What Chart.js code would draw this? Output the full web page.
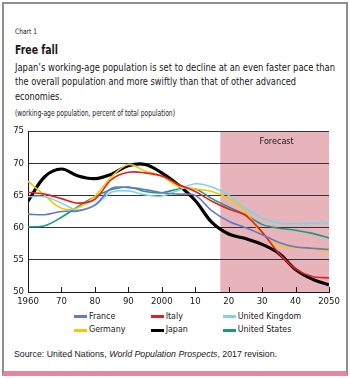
<!DOCTYPE html>
<html><head><meta charset="utf-8">
<script src="https://cdn.jsdelivr.net/npm/chart.js@4.4.1/dist/chart.umd.min.js"></script>
<style>
html,body{margin:0;padding:0;background:#fff;width:350px;height:378px;overflow:hidden;position:relative;}
#frame{position:absolute;left:2px;top:2px;width:342px;height:367px;border:2px solid #8e8e8e;border-bottom:5px solid #e4869f;}
.t{position:absolute;white-space:nowrap;color:#1a1718;font-family:'Liberation Sans Narrow','DejaVu Sans Condensed',sans-serif;line-height:1;transform-origin:0 0;}
#c{position:absolute;left:0;top:120px;}
.sw{position:absolute;height:3px;width:13px;}
</style></head>
<body>
<div id="frame"></div>
<div class="t" style="left:15px;top:28px;font-size:7.5px;" data-w="22">Chart 1</div>
<div class="t" style="left:15px;top:44.4px;font-size:12.5px;font-weight:bold;" data-w="43">Free fall</div>
<div class="t" style="left:15px;top:61.7px;font-size:11px;" data-w="320">Japan’s working-age population is set to decline at an even faster pace than</div>
<div class="t" style="left:15px;top:76.2px;font-size:11px;" data-w="281">the overall population and more swiftly than that of other advanced</div>
<div class="t" style="left:15px;top:90.8px;font-size:11px;" data-w="47">economies.</div>
<div class="t" style="left:15px;top:110px;font-size:8px;" data-w="160">(working-age population, percent of total population)</div>
<canvas id="c" width="350" height="190"></canvas>
<div id="legend"></div>
<div class="t" style="left:14px;top:349.6px;font-size:8.4px;font-family:'Liberation Sans','DejaVu Sans',sans-serif;" data-w="263">Source: United Nations, <i>World Population Prospects</i>, 2017 revision.</div>
<script>
// ---- data ----
const years = [1960,1965,1970,1975,1980,1985,1990,1995,2000,2005,2010,2015,2020,2025,2030,2035,2040,2045,2050];
const france  = [62.1,62.0,62.5,62.6,63.5,66.1,66.2,65.9,65.4,65.2,65.0,62.6,61.0,60.0,58.9,57.7,57.0,56.8,56.6];
const italy   = [65.5,65.2,64.5,63.8,64.4,67.5,68.6,68.5,68.0,66.7,65.6,64.1,62.9,61.9,59.3,56.0,53.6,52.4,52.2];
const uk      = [64.8,64.8,63.8,62.7,63.5,65.5,65.7,65.1,64.9,65.8,66.8,66.3,65.0,63.0,61.5,60.7,60.6,60.7,60.7];
const germany = [67.2,65.0,63.0,63.1,64.9,67.9,69.8,68.8,68.0,66.4,66.0,65.6,64.5,62.5,59.0,57.2,56.9,56.7,56.4];
const japan   = [64.1,67.9,69.1,68.0,67.6,68.3,69.6,69.8,68.5,66.6,64.2,60.8,59.0,58.3,57.4,56.0,53.5,52.0,51.1];
const us      = [60.1,60.3,61.6,63.3,64.8,65.9,66.3,65.6,65.4,66.0,66.0,64.5,63.2,62.0,60.5,59.9,59.6,59.1,58.4];
const seriesNames = ['France','Italy','United Kingdom','Germany','Japan','United States'];
const seriesValues = [france, italy, uk, germany, japan, us];
const seriesColors = ['#6677c6','#ed1c24','#7dd4e2','#f6c700','#000000','#1a9a7f'];
const xTickValues = [1960,1970,1980,1990,2000,2010,2020,2030,2040,2050];
const xTickLabels = ['1960','70','80','90','2000','10','20','30','40','2050'];
const yMin = 50, yMax = 75, yStep = 5;
const forecastStart = 2017.5;
const forecastLabel = 'Forecast';

// ---- fit text ----
document.querySelectorAll('[data-w]').forEach(el=>{
  const w = el.getBoundingClientRect().width;
  el.style.transform = 'scaleX(' + (+el.dataset.w / w) + ')';
});

// ---- legend ----
const legend = document.getElementById('legend');
const colX = [74, 150.7, 222.7];
const rowY = [316.5, 330];
seriesNames.forEach((n,i)=>{
  const c = i % 3, r = Math.floor(i / 3);
  const sw = document.createElement('div');
  sw.className = 'sw';
  sw.style.left = colX[c] + 'px';
  sw.style.top = (rowY[r] - 1.5) + 'px';
  sw.style.background = seriesColors[i];
  legend.appendChild(sw);
  const t = document.createElement('div');
  t.className = 't';
  t.style.left = (colX[c] + 15) + 'px';
  t.style.top = (rowY[r] - 4.8) + 'px';
  t.style.fontSize = '8.8px';
  t.textContent = n;
  legend.appendChild(t);
});

const FAM = "'Liberation Sans Narrow','DejaVu Sans Condensed',sans-serif";
const INK = '#1a1718';

const forecastPlugin = {
  id: 'forecast',
  beforeDraw(chart) {
    const {ctx, chartArea: a, scales: {x}} = chart;
    const x0 = x.getPixelForValue(forecastStart);
    ctx.save();
    ctx.fillStyle = 'rgb(231,180,188)';
    ctx.fillRect(x0, a.top, a.right - x0, a.bottom - a.top);
    ctx.fillStyle = INK;
    ctx.font = '9px ' + FAM;
    ctx.textAlign = 'center';
    ctx.textBaseline = 'middle';
    ctx.fillText(forecastLabel, (x0 + a.right) / 2 + 2, a.top + 11);
    ctx.restore();
  }
};
const tickPlugin = {
  id: 'innerTicks',
  afterDraw(chart) {
    const {ctx, chartArea: a, scales: {x}} = chart;
    ctx.save();
    ctx.strokeStyle = INK;
    ctx.lineWidth = 1;
    xTickValues.forEach(v=>{
      const px = Math.round(x.getPixelForValue(v)) + 0.5;
      ctx.beginPath();
      ctx.moveTo(px, a.bottom);
      ctx.lineTo(px, a.bottom - 5);
      ctx.stroke();
    });
    ctx.restore();
  }
};

new Chart(document.getElementById('c'), {
  type: 'line',
  data: {
    datasets: seriesNames.map((n,i)=>({
      label: n,
      data: years.map((yr,j)=>({x: yr, y: seriesValues[i][j]})),
      borderColor: seriesColors[i],
      borderWidth: n === 'Japan' ? 3.2 : 1.6,
      pointRadius: 0,
      tension: 0.35,
      fill: false
    }))
  },
  options: {
    responsive: false,
    animation: false,
    devicePixelRatio: 1,
    layout: {padding: {top: 11, right: 21, left: 0, bottom: 0}},
    plugins: {legend: {display: false}, tooltip: {enabled: false}},
    scales: {
      x: {
        type: 'linear', min: 1960, max: 2050,
        afterBuildTicks: s => { s.ticks = xTickValues.map(v=>({value: v})); },
        ticks: {
          autoSkip: false, maxRotation: 0, padding: 3.5, color: INK,
          font: {family: FAM, size: 9.5},
          callback: (v, i) => xTickLabels[i]
        },
        grid: {display: false, drawTicks: false},
        border: {display: true, color: INK, width: 1},
        afterFit: s => { s.height = 18; }
      },
      y: {
        min: yMin, max: yMax,
        ticks: {stepSize: yStep, padding: 4, color: INK, font: {family: FAM, size: 9.5}},
        grid: {color: '#333', lineWidth: 1, drawTicks: false},
        border: {display: true, color: INK, width: 1},
        afterFit: s => { s.width = 28; }
      }
    }
  },
  plugins: [forecastPlugin, tickPlugin]
});
</script>
</body></html>
